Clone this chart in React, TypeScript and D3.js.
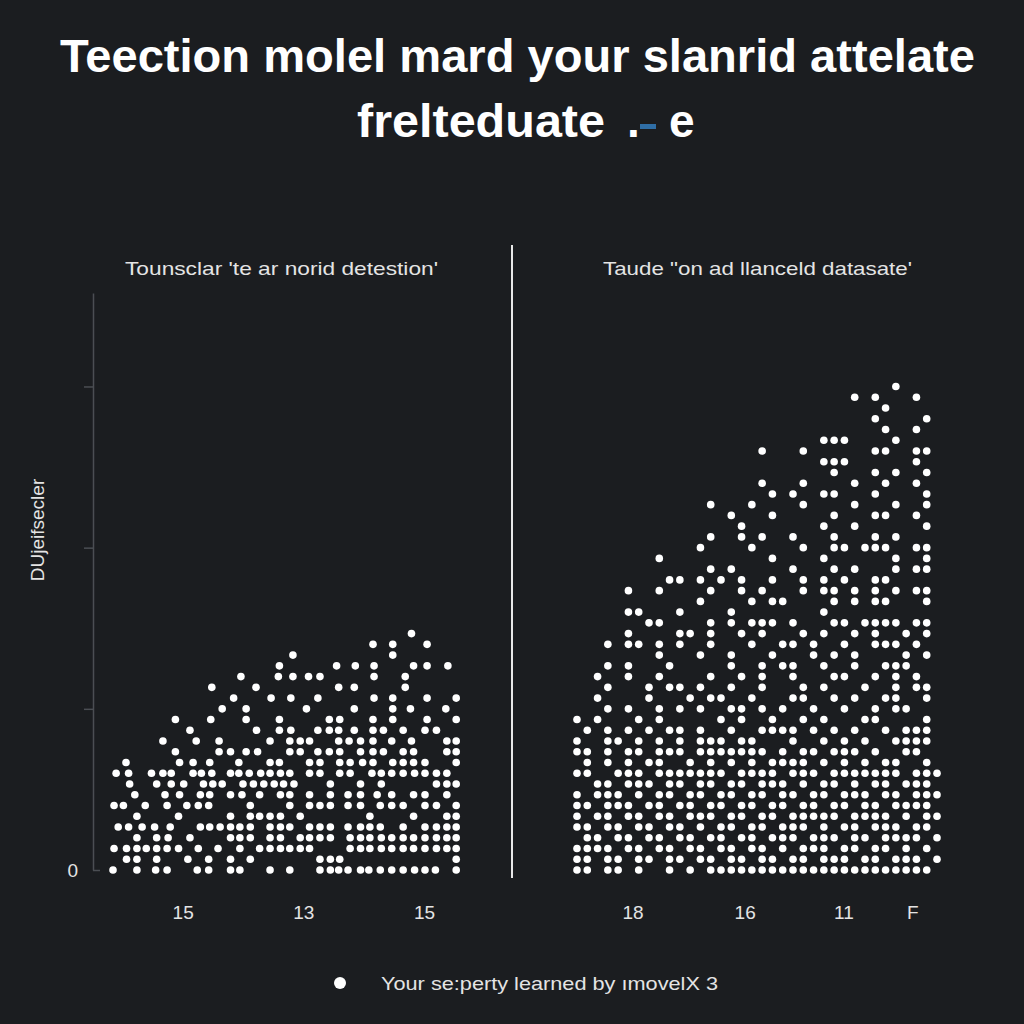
import React, { useEffect, useRef } from 'react'
import * as d3 from 'd3'

// text as printed on the chart
const titleLine1 = 'Teection molel mard your slanrid attelate'
const titleLine2 = 'frelteduate'
const leftTitle = "Tounsclar 'te ar norid detestion'"
const rightTitle = 'Taude "on ad llanceld datasate\''
const yLabel = 'DUjeifsecler'
const legendLabel = 'Your se:perty learned by ımovelX 3'

// x tick labels (positions in column units)
const leftTickPos = [6.7, 18.3, 29.9]
const leftTickLabels = ['15', '13', '15']
const rightTickPos = [5.4, 16.3, 25.9, 32.6]
const rightTickLabels = ['18', '16', '11', 'F']
const yTickValues = [0, 15, 30, 45]

// left panel: each entry is one y level (index = y value), listing the x values of its dots
const leftRows: number[][] = [
  [0, 2.3, 4.1, 5.2, 8.1, 9.2, 11.3, 12.2, 15.1, 17, 19.9, 20.9, 21.7, 22.6, 23.8, 24.6, 25.7, 26.8, 27.9, 29, 30, 31, 33],
  [1.3, 2.3, 4.2, 7.2, 9.2, 11.3, 13.2, 19.9, 20.9, 21.8, 33],
  [0.1, 1.3, 2.3, 3.2, 4.2, 5.2, 6.3, 8.2, 10.1, 12.2, 14.1, 15.1, 16.1, 17, 18, 18.9, 22.8, 23.8, 24.7, 25.8, 26.8, 27.9, 28.9, 30, 31.1, 32.1, 33],
  [2.3, 4.2, 5.3, 7.4, 11.3, 12.2, 13.2, 15.1, 16.1, 18, 18.9, 19.9, 20.9, 22.8, 23.8, 24.7, 25.8, 26.8, 27.9, 28.9, 30, 31.1, 32.1, 33],
  [0.5, 1.5, 2.8, 4, 5.5, 8.4, 9.3, 10.3, 11.3, 12.2, 13.2, 15.1, 16.1, 17, 18.9, 19.9, 20.9, 22.6, 23.8, 24.7, 25.7, 27.9, 30, 31.1, 32.1, 33],
  [2.3, 6.3, 11.3, 13.2, 14.1, 15.1, 16.1, 18, 24.7, 28.9, 32.1, 33],
  [0.1, 1, 3.1, 5.2, 7.1, 8.2, 9.2, 13.2, 17, 18.9, 19.9, 20.9, 22.6, 23.8, 25.7, 26.8, 27.9, 30, 31.1, 33],
  [2.1, 5, 6.4, 8.4, 9.3, 11.3, 12.4, 14.1, 16.1, 17, 18.9, 20.9, 22.6, 23.8, 25.4, 26.8, 28.9, 30, 32.1],
  [1.6, 4.2, 5.6, 6.8, 8.7, 9.6, 10.5, 12.5, 13.5, 14.5, 15.5, 16.4, 17.4, 20.9, 23.8, 25.8, 31.1, 32.1, 33],
  [0.3, 1.5, 3.7, 4.8, 5.6, 7.7, 8.5, 9.5, 11.3, 12.1, 13.1, 14.2, 15.1, 16.1, 17, 18.9, 19.9, 21.8, 22.8, 24.9, 25.8, 26.8, 27.9, 29, 30, 31.1, 32.1],
  [1.25, 6.4, 7.7, 9.3, 12.1, 15.1, 16, 18.9, 19.9, 21.8, 22.8, 24, 25, 26.9, 27.9, 28.9, 30, 33],
  [6, 10.2, 11.3, 12.8, 13.9, 17, 18, 19.7, 20.8, 21.8, 23.8, 25, 26, 27.9, 28.9, 32.1, 33],
  [4.8, 8, 10.2, 15.1, 17, 18, 18.9, 21.7, 22.7, 23.8, 25, 26.8, 28.7, 32.1, 33],
  [7.4, 13.8, 16, 17.1, 19.7, 20.8, 21.7, 23.2, 25, 26, 27.9, 30, 31.1],
  [6, 9.4, 12.8, 16, 20.8, 21.8, 25, 26.9, 30.2, 33],
  [10.5, 12.8, 18.6, 23.2, 26.9, 28.6, 32],
  [11.6, 15.2, 17.1, 19.7, 25.1, 26.9, 30.2, 33],
  [9.5, 13.75, 21.7, 23.2, 28.1],
  [12.3, 15.9, 17.3, 18.8, 19.9, 25.1, 28.1],
  [16, 21.5, 23.3, 25.1, 28.9, 30.2, 32.2],
  [17.3, 26.9],
  [25, 26.9, 30.2],
  [28.7],
]

// right panel, same layout
const rightRows: number[][] = [
  [0, 1, 3, 4, 6, 9, 11, 13, 14, 15, 16, 17, 18, 19, 20, 21, 22, 23, 24, 25, 26, 27, 28, 29, 30, 31, 32, 33, 34],
  [0, 1, 3, 4, 6, 7, 9, 10, 12, 13, 15, 16, 18, 19, 21, 22, 24, 25, 26, 28, 29, 31, 32, 33, 35],
  [0, 1, 2, 3, 5, 6, 8, 9, 11, 12, 14, 15, 17, 18, 20, 22, 23, 24, 26, 27, 29, 30, 32, 34],
  [1, 2, 4, 5, 7, 8, 10, 11, 13, 14, 16, 17, 19, 20, 21, 23, 24, 25, 27, 28, 30, 31, 32, 33, 35],
  [0, 1, 3, 4, 6, 7, 9, 10, 12, 14, 15, 17, 18, 20, 21, 22, 24, 26, 27, 29, 30, 31, 33, 34],
  [0, 2, 3, 5, 6, 8, 9, 11, 12, 13, 15, 16, 18, 19, 21, 22, 23, 24, 25, 27, 28, 29, 30, 32, 34, 35],
  [0, 1, 3, 4, 5, 7, 8, 10, 11, 13, 14, 16, 17, 19, 20, 22, 23, 25, 26, 28, 29, 31, 32, 33, 34],
  [0, 2, 3, 4, 6, 8, 9, 11, 12, 14, 15, 17, 18, 20, 21, 23, 24, 26, 27, 28, 30, 31, 33, 34, 35],
  [2, 3, 5, 6, 7, 9, 10, 12, 13, 15, 16, 18, 19, 20, 22, 24, 25, 27, 29, 30, 32, 33, 34],
  [0, 1, 4, 5, 6, 8, 9, 10, 11, 12, 13, 14, 16, 17, 18, 19, 21, 22, 23, 25, 26, 27, 28, 29, 30, 31, 33, 34, 35],
  [1, 3, 5, 7, 8, 11, 13, 15, 17, 19, 20, 21, 22, 24, 26, 28, 30, 31, 34],
  [0, 1, 3, 5, 6, 8, 9, 10, 12, 13, 14, 15, 16, 17, 18, 20, 22, 23, 25, 26, 27, 29, 32, 33],
  [0, 3, 4, 6, 8, 10, 12, 13, 14, 16, 17, 21, 24, 26, 28, 31, 32, 33, 34],
  [1, 3, 5, 7, 9, 10, 12, 15, 18, 19, 20, 21, 23, 25, 27, 30, 32, 33, 34],
  [0, 2, 6, 8, 14, 16, 19, 22, 24, 28, 29, 34],
  [3, 5, 8, 10, 12, 15, 16, 18, 20, 23, 26, 29, 31, 32],
  [2, 7, 11, 13, 14, 17, 21, 22, 25, 27, 30, 31, 34],
  [3, 7, 9, 10, 12, 15, 18, 22, 24, 28, 31, 33, 34],
  [2, 5, 8, 13, 16, 18, 21, 25, 26, 29, 31, 33],
  [3, 5, 9, 15, 18, 20, 21, 24, 27, 30, 31, 32],
  [8, 12, 15, 19, 23, 25, 27, 32, 34],
  [3, 5, 6, 8, 10, 13, 17, 20, 21, 23, 26, 29, 30, 31, 33],
  [5, 10, 11, 13, 16, 18, 22, 24, 27, 29, 32, 34],
  [7, 8, 13, 15, 17, 18, 19, 21, 25, 26, 28, 29, 30, 31, 33, 34],
  [5, 6, 10, 15, 24],
  [12, 17, 19, 20, 25, 27, 29, 30, 34],
  [5, 8, 13, 16, 18, 22, 24, 25, 27, 29, 31, 33, 34],
  [9, 10, 12, 14, 16, 19, 22, 24, 26, 29, 30],
  [13, 15, 21, 25, 27, 31, 33, 34],
  [8, 19, 24, 31, 34],
  [12, 17, 22, 25, 26, 28, 29, 30, 33, 34],
  [13, 16, 18, 21, 25, 29, 31],
  [16, 24, 27, 34],
  [15, 19, 25, 29, 30, 33],
  [13, 17, 22, 27, 31, 34],
  [19, 21, 24, 25, 29, 34],
  [18, 22, 27, 30, 33],
  [25, 29, 31, 34],
  [24, 25, 26, 33],
  [18, 22, 29, 30, 33, 34],
  [24, 25, 26, 31],
  [30, 33],
  [29, 34],
  [30],
  [27, 29, 33],
  [31],
]

interface Dot {
  x: number
  y: number
}

const toDots = (rows: number[][]): Dot[] =>
  rows.flatMap((xs, y) => xs.map((x) => ({ x, y })))

export default function App() {
  const svgRef = useRef<SVGSVGElement>(null)

  useEffect(() => {
    if (!svgRef.current) return
    document.body.style.margin = '0'
    document.body.style.background = '#1b1d20'

    const svg = d3.select(svgRef.current)
    svg.selectAll('*').remove()

    const width = 1024
    const height = 1024
    const bg = '#1b1d20'
    const font = '"Liberation Sans", Arial, sans-serif'
    const textColor = '#e4e4e4'

    svg.append('rect').attr('width', width).attr('height', height).attr('fill', bg)

    // title
    svg
      .append('text')
      .attr('x', 60)
      .attr('y', 72)
      .attr('font-family', font)
      .attr('font-weight', 700)
      .attr('font-size', 46)
      .attr('fill', '#ffffff')
      .attr('textLength', 915)
      .attr('lengthAdjust', 'spacingAndGlyphs')
      .text(titleLine1)

    svg
      .append('text')
      .attr('x', 357)
      .attr('y', 137)
      .attr('font-family', font)
      .attr('font-weight', 700)
      .attr('font-size', 46)
      .attr('fill', '#ffffff')
      .attr('textLength', 248)
      .attr('lengthAdjust', 'spacingAndGlyphs')
      .text(titleLine2)

    svg
      .append('text')
      .attr('x', 627)
      .attr('y', 137)
      .attr('font-family', font)
      .attr('font-weight', 700)
      .attr('font-size', 46)
      .attr('fill', '#ffffff')
      .text('.')

    svg
      .append('rect')
      .attr('x', 640)
      .attr('y', 124)
      .attr('width', 16)
      .attr('height', 5)
      .attr('fill', '#2f6ea6')

    svg
      .append('text')
      .attr('x', 669)
      .attr('y', 137)
      .attr('font-family', font)
      .attr('font-weight', 700)
      .attr('font-size', 46)
      .attr('fill', '#ffffff')
      .text('e')

    // panel titles
    const panelTitles = [
      { label: leftTitle, x: 125, len: 313 },
      { label: rightTitle, x: 603, len: 309 },
    ]
    svg
      .selectAll('.panel-title')
      .data(panelTitles)
      .join('text')
      .attr('class', 'panel-title')
      .attr('x', (d) => d.x)
      .attr('y', 275)
      .attr('font-family', font)
      .attr('font-size', 19)
      .attr('fill', textColor)
      .attr('textLength', (d) => d.len)
      .attr('lengthAdjust', 'spacingAndGlyphs')
      .text((d) => d.label)

    // divider
    svg
      .append('line')
      .attr('x1', 512)
      .attr('x2', 512)
      .attr('y1', 245)
      .attr('y2', 878)
      .attr('stroke', '#e8e8e8')
      .attr('stroke-width', 2)

    const yScale = d3.scaleLinear().domain([0, 53.7]).range([870, 293])
    const xLeft = d3.scaleLinear().domain([0, 33]).range([113, 456.2])
    const xRight = d3.scaleLinear().domain([0, 35]).range([577, 937])

    // y axis
    const yAxis = svg
      .append('g')
      .attr('transform', 'translate(93,0)')
      .call(
        d3
          .axisLeft(yScale)
          .tickValues(yTickValues)
          .tickSize(9)
          .tickSizeOuter(0)
          .tickPadding(6)
          .tickFormat((d) => (d === 0 ? '0' : ''))
      )
    yAxis.select('.domain').attr('stroke', '#4b4e53').attr('stroke-width', 1.5)
    yAxis.selectAll('.tick line').attr('stroke', '#4b4e53').attr('stroke-width', 1.5)
    yAxis
      .selectAll('.tick')
      .filter((d) => d === 0)
      .select('line')
      .attr('x2', 7)
    yAxis
      .selectAll('.tick text')
      .attr('font-family', font)
      .attr('font-size', 19)
      .attr('fill', textColor)

    svg
      .append('text')
      .attr('transform', 'translate(44,530) rotate(-90)')
      .attr('text-anchor', 'middle')
      .attr('font-family', font)
      .attr('font-size', 19)
      .attr('fill', textColor)
      .text(yLabel)

    // x tick labels
    const drawXAxis = (scale: d3.ScaleLinear<number, number>, pos: number[], labels: string[]) => {
      const ax = svg
        .append('g')
        .attr('transform', 'translate(0,905)')
        .call(
          d3
            .axisBottom(scale)
            .tickValues(pos)
            .tickSize(0)
            .tickPadding(0)
            .tickFormat((_, i) => labels[i])
        )
      ax.select('.domain').remove()
      ax.selectAll('.tick text')
        .attr('dy', '0.71em')
        .attr('font-family', font)
        .attr('font-size', 19)
        .attr('fill', textColor)
    }
    drawXAxis(xLeft, leftTickPos, leftTickLabels)
    drawXAxis(xRight, rightTickPos, rightTickLabels)

    // dots
    svg
      .append('g')
      .selectAll('circle')
      .data(toDots(leftRows))
      .join('circle')
      .attr('cx', (d) => xLeft(d.x))
      .attr('cy', (d) => yScale(d.y))
      .attr('r', 3.8)
      .attr('fill', '#ffffff')

    svg
      .append('g')
      .selectAll('circle')
      .data(toDots(rightRows))
      .join('circle')
      .attr('cx', (d) => xRight(d.x))
      .attr('cy', (d) => yScale(d.y))
      .attr('r', 3.8)
      .attr('fill', '#ffffff')

    // legend
    svg.append('circle').attr('cx', 340).attr('cy', 983).attr('r', 6).attr('fill', '#ffffff')
    svg
      .append('text')
      .attr('x', 381)
      .attr('y', 990)
      .attr('font-family', font)
      .attr('font-size', 19)
      .attr('fill', textColor)
      .attr('textLength', 337)
      .attr('lengthAdjust', 'spacingAndGlyphs')
      .text(legendLabel)
  }, [])

  return <svg ref={svgRef} width={1024} height={1024} style={{ display: 'block' }} />
}
